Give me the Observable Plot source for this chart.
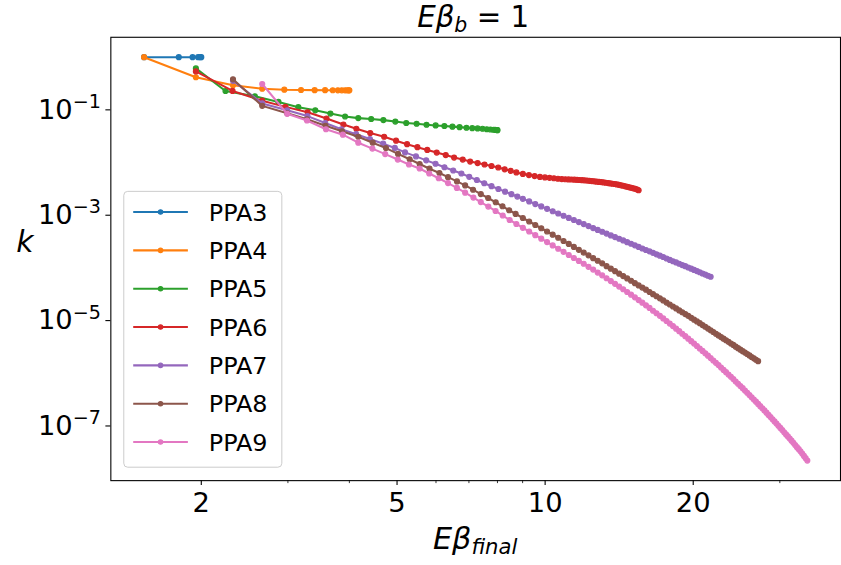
<!DOCTYPE html>
<html><head><meta charset="utf-8">
<script src="https://cdn.jsdelivr.net/npm/d3@7"></script>
<script src="https://cdn.jsdelivr.net/npm/@observablehq/plot@0.6"></script>
<style>
html,body{margin:0;padding:0;background:#fff;overflow:hidden;}
#wrap{position:relative;width:841px;height:565px;overflow:hidden;}
#wrap svg{position:absolute;left:0;top:0;}
</style></head><body><div id="wrap"></div>
<script>
// ---- data ----
const seriesNames = ["PPA3","PPA4","PPA5","PPA6","PPA7","PPA8","PPA9"];
const seriesColors = ["#1f77b4","#ff7f0e","#2ca02c","#d62728","#9467bd","#8c564b","#e377c2"];
const xTicksMajor = [2, 5, 10, 20];
const xTicksMinor = [3, 4, 6, 7, 8, 9, 30];
const yTicks = [1e-1, 1e-3, 1e-5, 1e-7];
const yTickExponents = ["−1", "−3", "−5", "−7"];

const ppa3X = [1.53, 1.80, 1.92, 1.97, 1.99, 2.0];
const ppa3Y = [1.0, 1.0, 1.0, 1.0, 1.0, 1.0];

const ppa4X = [1.53, 1.95, 2.32, 2.66, 2.95, 3.19, 3.40, 3.57, 3.70, 3.79, 3.86, 3.92, 3.96, 3.99, 4.0];
const ppa4Y = [1.0, 0.416, 0.292, 0.252, 0.2415, 0.2385, 0.2365, 0.236, 0.2355, 0.235, 0.235, 0.235, 0.235, 0.235, 0.235];

const ppa5X = [1.95, 2.24, 2.57, 2.87, 3.15, 3.41, 3.66, 3.92, 4.17, 4.43, 4.69, 4.96, 5.22, 5.48, 5.74,
  5.99, 6.24, 6.48, 6.70, 6.92, 7.11, 7.29, 7.46, 7.61, 7.74, 7.85, 7.91, 7.96, 7.99, 8.0];
const ppa5Y = [0.612, 0.228, 0.181, 0.1416, 0.1124, 0.0979, 0.0851, 0.0747, 0.0697, 0.0671, 0.0639, 0.0599, 0.0564, 0.0544, 0.0521,
  0.0506, 0.0493, 0.0480, 0.0470, 0.0457, 0.0449, 0.0444, 0.0438, 0.0429, 0.0423, 0.0419, 0.0417, 0.0415, 0.0413, 0.0412];

const ppa6X = [1.95, 2.315, 2.66, 2.966, 3.29, 3.594, 3.89, 4.133, 4.41, 4.707, 4.977, 5.24, 5.50, 5.76, 6.02,
  6.28, 6.53, 6.80, 7.04, 7.29, 7.53, 7.78, 8.03, 8.275, 8.51,
  8.74, 9.01, 9.27, 9.52, 9.76, 9.99, 10.21, 10.42, 10.62, 10.81,
  10.99, 11.16, 11.32, 11.47, 11.61, 11.75, 11.89, 12.03, 12.17, 12.31,
  12.45, 12.59, 12.73, 12.87, 13.01, 13.15, 13.29, 13.43, 13.57, 13.71,
  13.85, 13.99, 14.13, 14.27, 14.41, 14.55, 14.69, 14.83, 14.97, 15.11,
  15.25, 15.39, 15.49];
const ppa6Y = [0.537, 0.2284, 0.1492, 0.1139, 0.0897, 0.0685, 0.0528, 0.0438, 0.0363, 0.0309, 0.0260, 0.02234, 0.0196, 0.01737, 0.01544,
  0.01385, 0.01242, 0.01139, 0.01044, 0.00978, 0.00917, 0.00859, 0.00805, 0.00744, 0.00697,
  6.50e-3, 6.09e-3, 5.77e-3, 5.53e-3, 5.34e-3, 5.22e-3, 5.12e-3, 5.03e-3, 4.93e-3, 4.86e-3,
  4.81e-3, 4.78e-3, 4.76e-3, 4.73e-3, 4.70e-3, 4.67e-3, 4.63e-3, 4.59e-3, 4.55e-3, 4.50e-3,
  4.45e-3, 4.40e-3, 4.34e-3, 4.29e-3, 4.25e-3, 4.20e-3, 4.14e-3, 4.08e-3, 4.01e-3, 3.96e-3,
  3.91e-3, 3.84e-3, 3.77e-3, 3.69e-3, 3.62e-3, 3.54e-3, 3.46e-3, 3.38e-3, 3.31e-3, 3.24e-3,
  3.17e-3, 3.07e-3, 2.98e-3];

// shared x positions of the densely sampled tails of PPA7-PPA9
const xTail = [
  8.74, 9.01, 9.28, 9.55, 9.82, 10.09, 10.36, 10.63, 10.90, 11.17,
  11.44, 11.71, 11.98, 12.25, 12.52, 12.79, 13.06, 13.33, 13.60, 13.87,
  14.14, 14.41, 14.68, 14.95, 15.22, 15.49, 15.76, 16.03, 16.30, 16.57,
  16.84, 17.11, 17.38, 17.65, 17.92, 18.19, 18.46, 18.73, 19.00, 19.27,
  19.54, 19.81, 20.08, 20.35, 20.62, 20.89, 21.16, 21.43, 21.70, 21.97,
  22.24, 22.51, 22.78, 23.05, 23.32, 23.59, 23.86, 24.13, 24.40, 24.67,
  24.94, 25.21, 25.48, 25.75, 26.02, 26.29, 26.56, 26.83, 27.10, 27.37,
  27.64, 27.91, 28.18, 28.45, 28.72, 28.99, 29.26, 29.53, 29.80, 30.07,
  30.34, 30.61, 30.88, 31.15, 31.42, 31.69, 31.96, 32.23, 32.50, 32.77,
  33.04, 33.31, 33.58, 33.85, 34.12];

const ppa7XHead = [2.32, 2.66, 2.99, 3.287, 3.572, 3.853, 4.128, 4.404, 4.686, 4.948, 5.19, 5.463, 5.731, 5.987, 6.242,
  6.503, 6.757, 7.01, 7.264, 7.52, 7.78, 8.035, 8.29, 8.54, 8.78];
const ppa7YHead = [0.356, 0.1326, 0.0979, 0.0761, 0.0561, 0.0429, 0.0345, 0.0280, 0.0228, 0.01894, 0.01558, 0.01309, 0.0110, 0.0095, 0.00815,
  0.00707, 0.0062, 0.00535, 0.00466, 0.00405, 0.00356, 0.00315, 0.0028, 0.00251, 0.00226];
const ppa7YTail = [2.05e-3, 1.83e-3, 1.63e-3, 1.47e-3, 1.32e-3, 1.19e-3, 1.08e-3, 9.78e-4, 8.89e-4, 8.12e-4,
  7.41e-4, 6.79e-4, 6.23e-4, 5.71e-4, 5.26e-4, 4.86e-4, 4.48e-4, 4.14e-4, 3.85e-4, 3.57e-4,
  3.32e-4, 3.08e-4, 2.87e-4, 2.68e-4, 2.50e-4, 2.34e-4, 2.19e-4, 2.06e-4, 1.93e-4, 1.81e-4,
  1.71e-4, 1.61e-4, 1.51e-4, 1.42e-4, 1.34e-4, 1.27e-4, 1.20e-4, 1.13e-4, 1.08e-4, 1.02e-4,
  9.66e-5, 9.17e-5, 8.70e-5, 8.26e-5, 7.84e-5, 7.47e-5, 7.09e-5, 6.79e-5];

const ppa8XHead = [2.32, 2.66, 2.99, 3.28, 3.577, 3.864, 4.17, 4.462, 4.747, 5.023, 5.304, 5.558, 5.821, 6.097, 6.347,
  6.619, 6.877, 7.136, 7.40, 7.659, 7.935, 8.19, 8.45, 8.71];
const ppa8YHead = [0.3795, 0.119, 0.0859, 0.0662, 0.0499, 0.0393, 0.0309, 0.0238, 0.01878, 0.01459, 0.01154, 0.00937, 0.00764, 0.00634, 0.00528,
  0.00438, 0.00368, 0.00305, 0.00252, 0.00212, 0.00176, 0.001478, 0.001243, 0.001058];
const ppa8YTail = [8.86e-4, 7.60e-4, 6.53e-4, 5.66e-4, 4.91e-4, 4.27e-4, 3.73e-4, 3.24e-4, 2.85e-4, 2.50e-4,
  2.20e-4, 1.95e-4, 1.73e-4, 1.53e-4, 1.37e-4, 1.22e-4, 1.08e-4, 9.66e-5, 8.66e-5, 7.77e-5,
  7.00e-5, 6.31e-5, 5.71e-5, 5.14e-5, 4.65e-5, 4.23e-5, 3.86e-5, 3.49e-5, 3.18e-5, 2.90e-5,
  2.65e-5, 2.42e-5, 2.20e-5, 2.02e-5, 1.85e-5, 1.70e-5, 1.56e-5, 1.44e-5, 1.33e-5, 1.23e-5,
  1.13e-5, 1.04e-5, 9.66e-6, 8.93e-6, 8.22e-6, 7.64e-6, 7.06e-6, 6.56e-6, 6.07e-6, 5.63e-6,
  5.24e-6, 4.86e-6, 4.54e-6, 4.23e-6, 3.95e-6, 3.68e-6, 3.45e-6, 3.20e-6, 3.00e-6, 2.81e-6,
  2.63e-6, 2.47e-6, 2.32e-6, 2.18e-6, 2.04e-6, 1.92e-6, 1.81e-6, 1.70e-6];

const ppa9XHead = [2.66, 2.99, 3.28, 3.585, 3.88, 4.17, 4.455, 4.73, 5.017, 5.287, 5.558, 5.813, 6.077, 6.347, 6.616,
  6.877, 7.148, 7.40, 7.664, 7.93, 8.20, 8.47];
const ppa9YHead = [0.31, 0.084, 0.0628, 0.0429, 0.0338, 0.0238, 0.01837, 0.01446, 0.01139, 0.00917, 0.0077, 0.0062, 0.00503, 0.00407, 0.0033,
  0.00268, 0.00216, 0.001774, 0.00146, 0.001205, 0.000987, 0.000812];
const ppa9YTail = [
  6.82e-4, 5.76e-4, 4.91e-4, 4.18e-4, 3.59e-4, 3.09e-4, 2.67e-4, 2.31e-4, 2.02e-4, 1.76e-4,
  1.54e-4, 1.36e-4, 1.20e-4, 1.05e-4, 9.29e-5, 8.15e-5, 7.22e-5, 6.37e-5, 5.63e-5, 4.99e-5,
  4.42e-5, 3.93e-5, 3.49e-5, 3.11e-5, 2.76e-5, 2.45e-5, 2.19e-5, 1.95e-5, 1.74e-5, 1.54e-5,
  1.38e-5, 1.23e-5, 1.10e-5, 9.83e-6, 8.78e-6, 7.87e-6, 7.03e-6, 6.31e-6, 5.63e-6, 5.06e-6,
  4.54e-6, 4.07e-6, 3.66e-6, 3.29e-6, 2.95e-6, 2.66e-6, 2.39e-6, 2.16e-6, 1.94e-6, 1.75e-6,
  1.58e-6, 1.43e-6, 1.29e-6, 1.16e-6, 1.05e-6, 9.45e-7, 8.59e-7, 7.77e-7, 6.97e-7, 6.34e-7,
  5.73e-7, 5.21e-7, 4.69e-7, 4.27e-7, 3.86e-7, 3.51e-7, 3.18e-7, 2.89e-7, 2.62e-7, 2.38e-7,
  2.17e-7, 1.97e-7, 1.79e-7, 1.62e-7, 1.48e-7, 1.34e-7, 1.22e-7, 1.11e-7, 1.01e-7, 9.17e-8,
  8.37e-8, 7.60e-8, 6.91e-8, 6.34e-8, 5.76e-8, 5.26e-8, 4.78e-8, 4.34e-8, 3.96e-8, 3.63e-8,
  3.30e-8, 3.00e-8, 2.70e-8, 2.45e-8, 2.20e-8];

// ---- assemble ----
const ppa7X = ppa7XHead.concat(xTail.slice(1, 1 + ppa7YTail.length));
const ppa7Y = ppa7YHead.concat(ppa7YTail);
const ppa8X = ppa8XHead.concat(xTail.slice(1, 1 + ppa8YTail.length));
const ppa8Y = ppa8YHead.concat(ppa8YTail);
const ppa9X = ppa9XHead.concat(xTail.slice(0, ppa9YTail.length));
const ppa9Y = ppa9YHead.concat(ppa9YTail);

const allX = [ppa3X, ppa4X, ppa5X, ppa6X, ppa7X, ppa8X, ppa9X];
const allY = [ppa3Y, ppa4Y, ppa5Y, ppa6Y, ppa7Y, ppa8Y, ppa9Y];
const tables = seriesNames.map((name, i) => allX[i].map((x, j) => ({name, x, y: allY[i][j]})));

const LW = 2.08;
const DOT_R = 2.5;
const TICK_FS = 27.5;
const marks = [];
tables.forEach((rows, i) => {
  marks.push(Plot.line(rows, {x: "x", y: "y", stroke: seriesColors[i], strokeWidth: LW, strokeLinejoin: "round", strokeLinecap: "butt"}));
  marks.push(Plot.dot(rows, {x: "x", y: "y", r: DOT_R, fill: seriesColors[i], stroke: seriesColors[i], strokeWidth: 1.2}));
});
marks.push(Plot.frame({stroke: "#000", strokeWidth: 1.1}));
marks.push(Plot.axisX({ticks: xTicksMajor, tickSize: 5, tickPadding: 7, tickFormat: d => String(d), label: null, stroke: "#000", strokeWidth: 1.1, fontSize: TICK_FS}));
marks.push(Plot.axisX({ticks: xTicksMinor, tickSize: 3, tickFormat: () => "", label: null, stroke: "#000", strokeWidth: 0.8}));
marks.push(Plot.axisY({ticks: yTicks, tickSize: 5, tickPadding: 5, tickFormat: d => "10^" + yTickExponents[yTicks.indexOf(d)], label: null, stroke: "#000", strokeWidth: 1.1, fontSize: TICK_FS}));

const svg = Plot.plot({
  width: 846, height: 565,
  marginLeft: 111, marginRight: 1, marginTop: 37, marginBottom: 82,
  style: {fontFamily: "DejaVu Sans", fontSize: TICK_FS + "px", color: "#000", background: "white", overflow: "visible"},
  x: {type: "log", domain: [1.3097, 39.85]},
  y: {type: "log", domain: [9.17e-9, 2.385]},
  marks
});
document.getElementById("wrap").appendChild(svg);

// superscript exponents on the y tick labels
svg.querySelectorAll('g[aria-label="y-axis tick label"] text').forEach(t => {
  const s = t.textContent; const parts = s.split("^");
  if (parts.length !== 2) return;
  t.textContent = "";
  const ns = "http://www.w3.org/2000/svg";
  const a = document.createElementNS(ns, "tspan"); a.textContent = parts[0]; t.appendChild(a);
  const b = document.createElementNS(ns, "tspan"); b.textContent = parts[1];
  b.setAttribute("font-size", (TICK_FS * 0.7) + "px"); b.setAttribute("dy", "-0.55em"); t.appendChild(b);
});

// title, axis labels
const S = d3.select(svg);
const ff = "DejaVu Sans";
const title = S.append("text").attr("x", 476).attr("y", 27).attr("text-anchor", "middle")
  .attr("font-family", ff).attr("font-size", 29.5).attr("fill", "#000");
title.append("tspan").attr("font-style", "italic").text("Eβ");
title.append("tspan").attr("font-style", "italic").attr("font-size", 20.6).attr("dy", 5).text("b");
title.append("tspan").attr("dy", -5).text(" = 1");

const xl = S.append("text").attr("x", 478).attr("y", 552).attr("text-anchor", "middle")
  .attr("font-family", ff).attr("font-size", 30.5).attr("fill", "#000");
xl.append("tspan").attr("font-style", "italic").text("Eβ");
xl.append("tspan").attr("font-style", "italic").attr("font-size", 21.3).attr("dy", 5).text("final");

S.append("text").attr("x", 25).attr("y", 253).attr("text-anchor", "middle")
  .attr("font-family", ff).attr("font-size", 30).attr("font-style", "italic").attr("fill", "#000").text("k");

// legend
const lg = S.append("g").attr("text-anchor", "start");
lg.append("rect").attr("x", 124.5).attr("y", 192.5).attr("width", 159).attr("height", 277.5).attr("rx", 4)
  .attr("fill", "white").attr("fill-opacity", 0.8).attr("stroke", "#cccccc").attr("stroke-width", 1);
seriesNames.forEach((name, i) => {
  const cy = 213.3 + 38.57 * i;
  lg.append("line").attr("x1", 134).attr("x2", 189).attr("y1", cy).attr("y2", cy)
    .attr("stroke", seriesColors[i]).attr("stroke-width", LW);
  lg.append("circle").attr("cx", 161.5).attr("cy", cy).attr("r", 2.2)
    .attr("fill", seriesColors[i]).attr("stroke", seriesColors[i]).attr("stroke-width", 1.2);
  lg.append("text").attr("x", 210).attr("y", cy + 8.6).attr("text-anchor", "start").attr("font-family", ff).attr("font-size", 24)
    .attr("fill", "#000").text(name);
});
</script></body></html>
